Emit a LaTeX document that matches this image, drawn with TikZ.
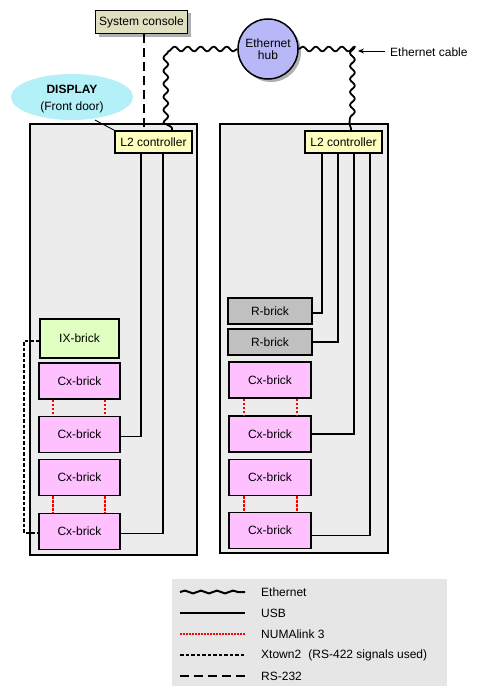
\documentclass[tikz,border=0pt]{standalone}
\usepackage{fontspec}
\setmainfont{Liberation Sans}
\usetikzlibrary{shapes.geometric,decorations.pathmorphing,arrows.meta}
\definecolor{consolefill}{HTML}{E0DFC0}
\definecolor{hubfill}{HTML}{B8B8F8}
\definecolor{dispfill}{HTML}{B4F0F8}
\definecolor{ltwofill}{HTML}{FFFFC0}
\definecolor{ixfill}{HTML}{E0FFC0}
\definecolor{cxfill}{HTML}{FFC0FF}
\definecolor{rfill}{HTML}{C0C0C0}
\definecolor{cabfill}{HTML}{ECECEC}
\definecolor{legfill}{HTML}{E6E6E6}
\definecolor{shadowgray}{HTML}{B0B0B0}
\tikzset{
  every node/.style={font=\fontsize{12}{14}\selectfont, inner sep=0pt},
  boxline/.style={draw=black, line width=1.5pt},
  cabinet/.style={boxline, fill=cabfill},
  ltwo/.style={boxline, fill=ltwofill, minimum width=77pt, minimum height=22pt},
  cxbrick/.style={boxline, fill=cxfill, minimum width=81pt, minimum height=36pt},
  rbrick/.style={boxline, fill=rfill, minimum width=84pt, minimum height=26pt},
  ixbrick/.style={boxline, fill=ixfill, minimum width=79pt, minimum height=39pt},
  usb/.style={draw=black, line width=1.5pt},
  numa/.style={draw=red, line width=2.4pt, dash pattern=on 2.5pt off 1.5pt},
  xtown/.style={draw=black, line width=1.4pt, dash pattern=on 3.5pt off 2pt},
  rsline/.style={draw=black, line width=1.8pt, dash pattern=on 9pt off 5pt},
  ether/.style={draw=black, line width=1.8pt, line join=round,
     decorate, decoration={snake, amplitude=2.4pt, segment length=13pt}},
  etherleg/.style={draw=black, line width=2pt,
     decorate, decoration={snake, amplitude=1.4pt, segment length=16pt}},
}
\begin{document}
\begin{tikzpicture}[x=1pt,y=-1pt]
\useasboundingbox (0,0) rectangle (479,696);
\fill[white] (0,0) rectangle (479,696);

% cabinets
\draw[cabinet] (30,124) rectangle (197,555);
\draw[cabinet] (220,124) rectangle (388,553);

% system console with shadow
\fill[shadowgray] (99,13) rectangle (191,37);
\node[boxline, fill=consolefill, minimum width=92pt, minimum height=23pt] (console) at (141.5,22) {System console};

% ethernet hub with shadow
\fill[shadowgray] (271,52) circle (30);
\node[boxline, fill=hubfill, circle, minimum size=60pt, align=center,
      font=\fontsize{12}{12}\selectfont] (hub) at (268,49) {Ethernet\\hub};

% display ellipse
\node[ellipse, fill=dispfill, minimum width=122pt, minimum height=46pt] (disp) at (72,97) {};
\node[font=\fontsize{12}{14}\selectfont\bfseries] (dispA) at (72,89) {DISPLAY};
\node (dispB) at (72,107) {(Front door)};
\coordinate (dispend) at (95,120);

% L2 controllers
\node[ltwo] (L2L) at (153.5,142) {L2 controller};
\node[ltwo] (L2R) at (343.5,142) {L2 controller};

\draw[black, line width=0.9pt] (dispend) -- (L2L.north west);

% RS-232 console line
\draw[rsline] (console.south -| 144,0) -- (L2L.north -| 144,0);

% Ethernet cables
\coordinate (ethLc) at (172,49);
\coordinate (ethRc) at (351,49);
\draw[ether] (hub.west) -- (ethLc) -- ([xshift=18.5pt]L2L.north);
\draw[ether] (hub.east) -- (ethRc) -- ([xshift=7.5pt]L2R.north);

% Ethernet cable label
\node[anchor=west] (ecable) at (390,52) {Ethernet cable};
\coordinate (ecarrow) at (358,51);
\draw[-{Stealth[length=6pt,width=5pt]}, line width=0.9pt] (385,51) -- (ecarrow);

% left bricks
\node[ixbrick] (IX) at (79.5,338.5) {IX-brick};
\node[cxbrick] (CxLa) at (79.5,381) {Cx-brick};
\node[cxbrick] (CxLb) at (79.5,434.5) {Cx-brick};
\node[cxbrick] (CxLc) at (79.5,477.5) {Cx-brick};
\node[cxbrick] (CxLd) at (79.5,531.5) {Cx-brick};

% right bricks
\node[rbrick] (Ra) at (270,311) {R-brick};
\node[rbrick] (Rb) at (270,342) {R-brick};
\node[cxbrick, minimum width=82pt] (CxRa) at (270,380) {Cx-brick};
\node[cxbrick, minimum width=82pt] (CxRb) at (270,434) {Cx-brick};
\node[cxbrick, minimum width=82pt] (CxRc) at (270,477.5) {Cx-brick};
\node[cxbrick, minimum width=82pt] (CxRd) at (270,530.5) {Cx-brick};

% USB left
\draw[usb] ([yshift=-2pt]CxLb.east) -| ([xshift=-12.5pt]L2L.south);
\draw[usb] ([yshift=-2pt]CxLd.east) -| ([xshift=9.5pt]L2L.south);
% USB right
\draw[usb] ([yshift=-2pt]Ra.east) -| ([xshift=-21.5pt]L2R.south);
\draw[usb] (Rb.east) -| ([xshift=-5.5pt]L2R.south);
\draw[usb] (CxRb.east) -| ([xshift=10.5pt]L2R.south);
\draw[usb] ([yshift=-5pt]CxRd.east) -| ([xshift=26.5pt]L2R.south);

% NUMAlink left
\draw[numa] (CxLa.south -| 53,0) -- (CxLb.north -| 53,0);
\draw[numa] (CxLa.south -| 105,0) -- (CxLb.north -| 105,0);
\draw[numa] (CxLc.south -| 53,0) -- (CxLd.north -| 53,0);
\draw[numa] (CxLc.south -| 105,0) -- (CxLd.north -| 105,0);
% NUMAlink right
\draw[numa] (CxRa.south -| 244,0) -- (CxRb.north -| 244,0);
\draw[numa] (CxRa.south -| 297,0) -- (CxRb.north -| 297,0);
\draw[numa] (CxRc.south -| 244,0) -- (CxRd.north -| 244,0);
\draw[numa] (CxRc.south -| 297,0) -- (CxRd.north -| 297,0);

% Xtown2
\coordinate (xtA) at (24,341);
\coordinate (xtB) at (24,533);
\draw[xtown] ([yshift=-2.5pt]IX.west) -- (xtA) -- (xtB) -- ([yshift=-1.5pt]CxLd.west);

% legend
\fill[legfill] (172,579) rectangle (447,686);
\coordinate (lgA1) at (180,592); \coordinate (lgB1) at (245,592);
\coordinate (lgA2) at (180,613); \coordinate (lgB2) at (245,613);
\coordinate (lgA3) at (180,634); \coordinate (lgB3) at (245,634);
\coordinate (lgA4) at (180,655); \coordinate (lgB4) at (245,655);
\coordinate (lgA5) at (180,676); \coordinate (lgB5) at (245,676);
\draw[etherleg] (lgA1) -- (lgB1);
\draw[usb] (lgA2) -- (lgB2);
\draw[numa, line width=2pt, dash pattern=on 2pt off 1pt] (lgA3) -- (lgB3);
\draw[xtown] (lgA4) -- (lgB4);
\draw[rsline] (lgA5) -- (lgB5);
\node[anchor=west] (lt1) at (261,592) {Ethernet};
\node[anchor=west] (lt2) at (261,613) {USB};
\node[anchor=west] (lt3) at (261,634) {NUMAlink 3};
\node[anchor=west] (lt4) at (261,655) {Xtown2\hspace{0.6em}(RS-422 signals used)};
\node[anchor=west] (lt5) at (261,676) {RS-232};
\end{tikzpicture}
\end{document}
